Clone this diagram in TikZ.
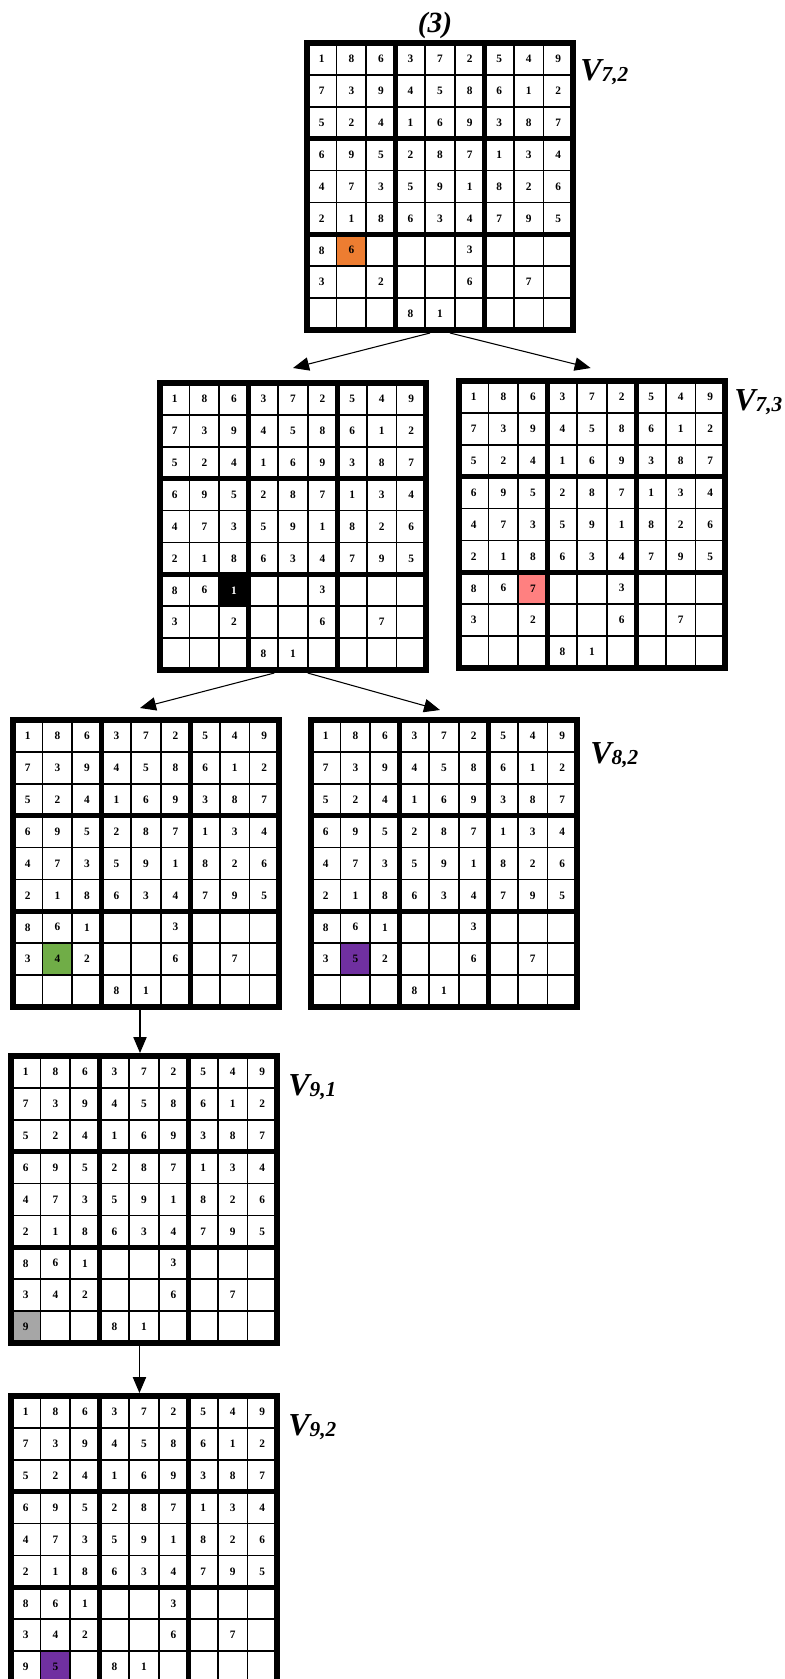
\documentclass[tikz,border=0pt]{standalone}
\usepackage{fontspec}
\setmainfont{Liberation Serif}
\usetikzlibrary{arrows.meta,positioning}
\definecolor{cellorange}{RGB}{237,125,49}
\definecolor{cellpink}{RGB}{255,128,128}
\definecolor{cellgreen}{RGB}{112,173,71}
\definecolor{cellpurple}{RGB}{112,48,160}
\definecolor{cellgray}{RGB}{166,166,166}

\newcommand{\cellw}{29.56}
\newcommand{\cellh}{31.89}
\newcommand{\fixedrows}{{1,8,6,3,7,2,5,4,9},{7,3,9,4,5,8,6,1,2},{5,2,4,1,6,9,3,8,7},{6,9,5,2,8,7,1,3,4},{4,7,3,5,9,1,8,2,6},{2,1,8,6,3,4,7,9,5}}

% #1 name, #2 top left corner, #3 rows 7-9, #4 marked cell col/row/fill/text/digit
\newcommand{\sgrid}[4]{%
  \node[gridbox, anchor=north west] (#1) at #2 {};
  \begin{scope}[shift={(#1.north west)}]
    \foreach \markc/\markr/\markbg/\markfg/\markd in {#4} {
      \fill[\markbg] ({3+(\markc-1)*\cellw},{3+(\markr-1)*\cellh}) rectangle ++(\cellw,\cellh);
      \node[digit, text=\markfg] (#1-mark) at ({3+(\markc-0.5)*\cellw},{3+(\markr-0.5)*\cellh}) {\markd};
    }
    \foreach \srow [count=\ri] in \fixedrows
      \foreach \sdig [count=\ci] in \srow
        \node[digit] (#1-\ri-\ci) at ({3+(\ci-0.5)*\cellw},{3+(\ri-0.5)*\cellh}) {\sdig};
    \foreach \srow [count=\ri from 7] in {#3}
      \foreach \sdig [count=\ci] in \srow
        \node[digit] (#1-\ri-\ci) at ({3+(\ci-0.5)*\cellw},{3+(\ri-0.5)*\cellh}) {\sdig};
    \foreach \li in {1,2,4,5,7,8} {
      \draw[thinline] ({3+\li*\cellw},3) -- ++(0,{9*\cellh});
      \draw[thinline] (3,{3+\li*\cellh}) -- ++({9*\cellw},0);
    }
    \foreach \li in {3,6} {
      \draw[blockline] ({3+\li*\cellw},3) -- ++(0,{9*\cellh});
      \draw[blockline] (3,{3+\li*\cellh}) -- ++({9*\cellw},0);
    }
    \draw[frameline] (3,3) rectangle ++({9*\cellw},{9*\cellh});
  \end{scope}}

\begin{document}
\begin{tikzpicture}[x=0.75pt, y=-0.75pt,
    gridbox/.style={minimum width=204pt, minimum height=219.75pt, inner sep=0pt, outer sep=0pt},
    digit/.style={font=\fontsize{8.5}{10}\selectfont\bfseries, inner sep=0pt},
    thinline/.style={line width=1.2pt},
    blockline/.style={line width=3.9pt},
    frameline/.style={line width=4.5pt},
    arrow/.style={-{Triangle[length=12pt,width=10pt]}, line width=0.8pt},
    vlab/.style={font=\fontsize{24}{26}\selectfont\bfseries\itshape, anchor=base west, inner sep=0pt},
    title/.style={font=\fontsize{22}{24}\selectfont\bfseries\itshape}
  ]
  \useasboundingbox (0,0) rectangle (785,1679);

  \node[title] (head) at (435,25) {(3)};

  \sgrid{v72}{(304,40)}{{8,{},{},{},{},3,{},{},{}},{3,{},2,{},{},6,{},7,{}},{{},{},{},8,1,{},{},{},{}}}{2/7/cellorange/black/6}
  \sgrid{v73a}{(157,380)}{{8,6,{},{},{},3,{},{},{}},{3,{},2,{},{},6,{},7,{}},{{},{},{},8,1,{},{},{},{}}}{3/7/black/white/1}
  \sgrid{v73b}{(456,378)}{{8,6,{},{},{},3,{},{},{}},{3,{},2,{},{},6,{},7,{}},{{},{},{},8,1,{},{},{},{}}}{3/7/cellpink/black/7}
  \sgrid{v82a}{(10,717)}{{8,6,1,{},{},3,{},{},{}},{3,{},2,{},{},6,{},7,{}},{{},{},{},8,1,{},{},{},{}}}{2/8/cellgreen/black/4}
  \sgrid{v82b}{(308,717)}{{8,6,1,{},{},3,{},{},{}},{3,{},2,{},{},6,{},7,{}},{{},{},{},8,1,{},{},{},{}}}{2/8/cellpurple/black/5}
  \sgrid{v91}{(8,1053)}{{8,6,1,{},{},3,{},{},{}},{3,4,2,{},{},6,{},7,{}},{{},{},{},8,1,{},{},{},{}}}{1/9/cellgray/black/9}
  \sgrid{v92}{(8,1393)}{{8,6,1,{},{},3,{},{},{}},{3,4,2,{},{},6,{},7,{}},{9,{},{},8,1,{},{},{},{}}}{2/9/cellpurple/black/5}

  \node[vlab] (l72) at (580,80) {V\raisebox{-1pt}{\fontsize{16}{18}\selectfont 7,2}};
  \node[vlab] (l73) at (734,410) {V\raisebox{-1pt}{\fontsize{16}{18}\selectfont 7,3}};
  \node[vlab] (l82) at (590,763) {V\raisebox{-1pt}{\fontsize{16}{18}\selectfont 8,2}};
  \node[vlab] (l91) at (288,1095) {V\raisebox{-1pt}{\fontsize{16}{18}\selectfont 9,1}};
  \node[vlab] (l92) at (288,1435) {V\raisebox{-1pt}{\fontsize{16}{18}\selectfont 9,2}};

  \coordinate (t73a) at ([yshift=9pt]v73a.north);
  \coordinate (t73b) at ([xshift=-1pt,yshift=7.5pt]v73b.north);
  \coordinate (t82a) at ([xshift=-4.5pt,yshift=6.75pt]v82a.north);
  \coordinate (t82b) at ([xshift=-3pt,yshift=5.25pt]v82b.north);

  \draw[arrow] ([xshift=-7.5pt]v72.south) -- (t73a);
  \draw[arrow] ([xshift=7.5pt]v72.south) -- (t73b);
  \draw[arrow] ([xshift=-14pt]v73a.south) -- (t82a);
  \draw[arrow] ([xshift=11pt]v73a.south) -- (t82b);
  \draw[arrow] ([xshift=-4.5pt]v82a.south) -- ([xshift=-4.5pt]v82a.south |- v91.north);
  \draw[arrow] ([xshift=-3.4pt]v91.south) -- ([xshift=-3.4pt]v91.south |- v92.north);
\end{tikzpicture}
\end{document}
